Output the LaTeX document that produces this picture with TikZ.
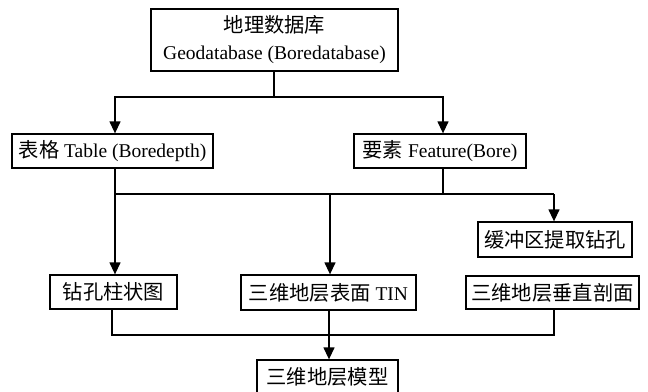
\documentclass[tikz,border=0pt]{standalone}
\usepackage{fontspec}
\setmainfont{Liberation Serif}
\newfontfamily\cjk[Scale=1.04]{Noto Sans CJK SC}
\usetikzlibrary{arrows.meta,calc}
\begin{document}
\begin{tikzpicture}[x=1pt,y=-1pt,
  box/.style={draw,line width=1.3pt,inner sep=0pt,minimum height=34pt,align=center,font=\fontsize{19.5}{27}\selectfont},
  conn/.style={line width=1.3pt},
  arr/.style={conn,-{Triangle[length=12pt,width=11pt]}}]
\useasboundingbox (0,0) rectangle (648,391);
\node[box,minimum width=247pt,minimum height=62pt] (db) at (274.5,40) {{\cjk 地理数据库}\\Geodatabase (Boredatabase)};
\node[box,minimum width=201pt] (table) at (112.5,151) {{\cjk 表格} Table (Boredepth)};
\node[box,minimum width=172pt] (feature) at (440,151) {{\cjk 要素} Feature(Bore)};
\node[box,minimum width=154pt,minimum height=35pt] (buffer) at (555,239.5) {\cjk 缓冲区提取钻孔};
\node[box,minimum width=127pt] (zkz) at (113.5,292) {\cjk 钻孔柱状图};
\node[box,minimum width=175pt,minimum height=35pt] (tin) at (328.5,292.5) {{\cjk 三维地层表面} TIN};
\node[box,minimum width=173pt,minimum height=33pt] (sect) at (552.5,292.5) {\cjk 三维地层垂直剖面};
\node[box,minimum width=141pt] (model) at (327.5,377) {\cjk 三维地层模型};
% junctions
\coordinate (j1) at (274,97);
\coordinate (j2) at (115,194);
\coordinate (j3) at (330,194);
\coordinate (j4) at (443,194);
\coordinate (j5) at (554,194);
\coordinate (j6) at (329,335);
% top level
\draw[conn] (db.south -| j1) -- (j1);
\draw[arr] (j1) -| ([xshift=2.5pt]table.north);
\draw[arr] (j1) -| ([xshift=3pt]feature.north);
% middle level
\draw[arr] ([xshift=2.5pt]table.south) -- ([xshift=1.5pt]zkz.north);
\draw[conn] (feature.south -| j4) -- (j4);
\draw[conn] (j2) -- (j5);
\draw[arr] (j3) -- (tin.north -| j3);
\draw[arr] (j5) -- (buffer.north -| j5);
% bottom level
\draw[conn] ([xshift=-1.5pt]zkz.south) |- (j6);
\draw[conn] (sect.south -| j5) |- (j6);
\draw[conn] (tin.south -| j6) -- (j6);
\draw[arr] (j6) -- (model.north -| j6);
\end{tikzpicture}
\end{document}
